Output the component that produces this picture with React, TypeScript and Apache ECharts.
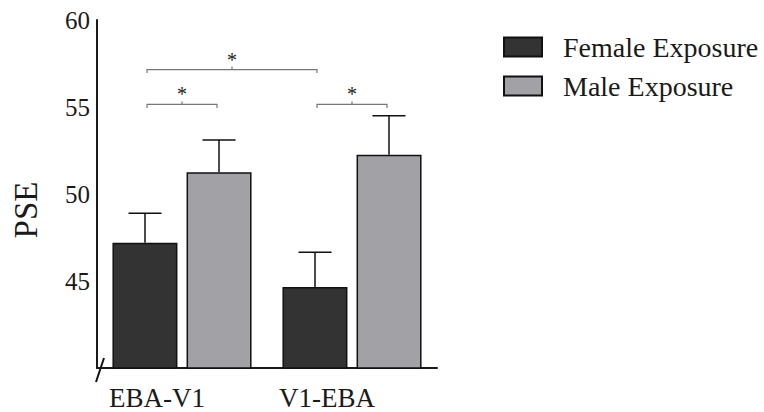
import React, { useEffect, useRef } from "react";
import * as echarts from "echarts";

const categories = ["EBA-V1", "V1-EBA"];
const seriesNames = ["Female Exposure", "Male Exposure"];
const femaleMeans = [47.2, 44.65];
const femaleUpper = [48.9, 46.65];
const maleMeans = [51.25, 52.25];
const maleUpper = [53.1, 54.5];
const yTicks = [40, 45, 50, 55, 60];
// brackets: [fromCategory, fromBar, toCategory, toBar, level]
const brackets = [
  [0, 0, 1, 0, 57.15],
  [0, 0, 0, 1, 55.15],
  [1, 0, 1, 1, 55.15],
];
const bracketLabel = "*";

const FONT = "'Liberation Serif', 'Times New Roman', serif";

export default function App() {
  const ref = useRef<HTMLDivElement>(null);
  useEffect(() => {
    if (!ref.current) return;
    const chart = echarts.init(ref.current, undefined, { renderer: "svg" });
    const errData: number[][] = [];
    for (let i = 0; i < categories.length; i++) {
      errData.push([i, 0, femaleMeans[i], femaleUpper[i]]);
      errData.push([i, 1, maleMeans[i], maleUpper[i]]);
    }
    chart.setOption({
      animation: false,
      grid: { left: 97, right: 327, top: 20, bottom: 44 },
      legend: {
        orient: "vertical",
        left: 498,
        top: 28,
        itemWidth: 38,
        itemHeight: 19,
        itemGap: 11,
        icon: "rect",
        data: seriesNames,
        textStyle: {
          fontFamily: FONT,
          fontSize: 28,
          color: "#1a1a1a",
          padding: [0, 0, 0, 16],
        },
      },
      xAxis: {
        type: "category",
        data: categories,
        axisLine: { lineStyle: { color: "#1a1a1a", width: 2 } },
        axisTick: { show: false },
        axisLabel: {
          fontFamily: FONT,
          fontSize: 27,
          color: "#1a1a1a",
          margin: 16,
          padding: [0, 50, 0, 0],
        },
      },
      yAxis: {
        type: "value",
        min: yTicks[0],
        max: yTicks[yTicks.length - 1],
        interval: 5,
        splitLine: { show: false },
        axisTick: { show: false },
        axisLine: { show: true, lineStyle: { color: "#1a1a1a", width: 2 } },
        axisLabel: {
          fontFamily: FONT,
          fontSize: 25,
          color: "#1a1a1a",
          margin: 7,
          formatter: (v: number) => (v === yTicks[0] ? "" : String(v)),
        },
      },
      graphic: [
        {
          type: "text",
          x: 26,
          y: 210,
          rotation: Math.PI / 2,
          style: {
            text: "PSE",
            fontFamily: FONT,
            fontSize: 33,
            fill: "#1a1a1a",
            textAlign: "center",
            textVerticalAlign: "middle",
          },
        },
        {
          type: "line",
          shape: { x1: 104, y1: 358, x2: 96, y2: 382 },
          style: { stroke: "#111", lineWidth: 2 },
        },
      ],
      series: [
        {
          name: seriesNames[0],
          type: "bar",
          data: femaleMeans,
          barWidth: 65,
          barGap: "14%",
          itemStyle: { color: "#333333", borderColor: "#111", borderWidth: 1.5 },
          z: 2,
        },
        {
          name: seriesNames[1],
          type: "bar",
          data: maleMeans,
          barWidth: 65,
          barGap: "14%",
          itemStyle: { color: "#a2a1a6", borderColor: "#111", borderWidth: 1.5 },
          z: 2,
        },
        {
          type: "custom",
          data: errData,
          encode: { x: 0, y: [2, 3] },
          z: 3,
          renderItem: (params: any, api: any) => {
            const cat = api.value(0);
            const side = api.value(1) === 0 ? -37 : 37;
            const base = api.coord([cat, api.value(2)]);
            const top = api.coord([cat, api.value(3)]);
            const x = base[0] + side;
            return {
              type: "group",
              children: [
                {
                  type: "line",
                  shape: { x1: x, y1: base[1], x2: x, y2: top[1] },
                  style: { stroke: "#111", lineWidth: 1.5 },
                },
                {
                  type: "line",
                  shape: { x1: x - 16.5, y1: top[1], x2: x + 16.5, y2: top[1] },
                  style: { stroke: "#111", lineWidth: 1.5 },
                },
              ],
            };
          },
        },
        {
          type: "custom",
          data: brackets,
          encode: { x: [0, 2], y: 4 },
          z: 3,
          renderItem: (params: any, api: any) => {
            const a = api.coord([api.value(0), api.value(4)]);
            const b = api.coord([api.value(2), api.value(4)]);
            const x1 = a[0] + (api.value(1) === 0 ? -35 : 35);
            const x2 = b[0] + (api.value(3) === 0 ? -35 : 35);
            const y = a[1];
            const mid = (x1 + x2) / 2;
            const st = { stroke: "#777", lineWidth: 1.2, fill: "none" };
            return {
              type: "group",
              children: [
                {
                  type: "polyline",
                  shape: { points: [[x1, y + 3.5], [x1, y], [x2, y], [x2, y + 3.5]] },
                  style: st,
                },
                {
                  type: "line",
                  shape: { x1: mid, y1: y, x2: mid, y2: y - 3 },
                  style: st,
                },
                {
                  type: "text",
                  x: mid,
                  y: y - 10,
                  style: {
                    text: bracketLabel,
                    fontFamily: FONT,
                    fontSize: 20,
                    fill: "#222",
                    textAlign: "center",
                    textVerticalAlign: "middle",
                  },
                },
              ],
            };
          },
        },
      ],
    });
    return () => chart.dispose();
  }, []);
  return (
    <div
      ref={ref}
      style={{ position: "fixed", left: 0, top: 0, width: 764, height: 412, background: "#fff" }}
    />
  );
}
